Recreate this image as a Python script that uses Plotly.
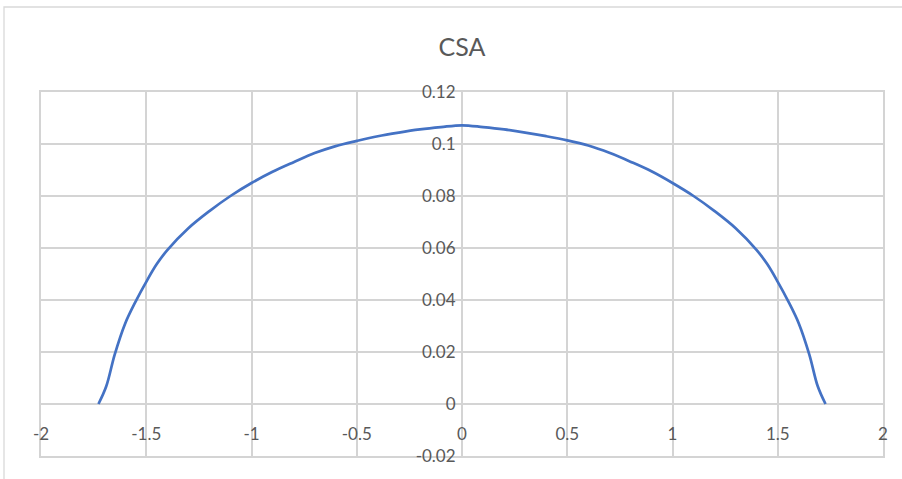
import plotly.graph_objects as go

# Cross-sectional area profile
x_vals = [-1.727, -1.69, -1.65, -1.60, -1.55, -1.50,
          -1.45, -1.40, -1.30, -1.20, -1.10, -1.00, -0.90, -0.80, -0.70, -0.60, -0.50,
          -0.40, -0.30, -0.20, -0.10, 0.00,
          0.10, 0.20, 0.30, 0.40, 0.50, 0.60, 0.70, 0.80, 0.90, 1.00,
          1.10, 1.20, 1.30, 1.40, 1.45, 1.50, 1.55, 1.60, 1.65, 1.69, 1.727]
csa_vals = [0.0000, 0.0068, 0.0190, 0.0310, 0.0395, 0.0470,
            0.0538, 0.0592, 0.0676, 0.0742, 0.0800, 0.0850, 0.0893, 0.0930, 0.0965, 0.0992, 0.1012,
            0.1030, 0.1044, 0.1056, 0.1065, 0.1072,
            0.1065, 0.1056, 0.1044, 0.1030, 0.1014, 0.0994, 0.0966, 0.0932, 0.0895, 0.0850,
            0.0800, 0.0742, 0.0676, 0.0592, 0.0538, 0.0470, 0.0395, 0.0310, 0.0190, 0.0068, 0.0000]

x_ticks = [-2, -1.5, -1, -0.5, 0, 0.5, 1, 1.5, 2]
x_tick_text = ["-2", "-1.5", "-1", "-0.5", "0", "0.5", "1", "1.5", "2"]
y_ticks = [-0.02, 0, 0.02, 0.04, 0.06, 0.08, 0.1, 0.12]
y_tick_text = ["-0.02", "0", "0.02", "0.04", "0.06", "0.08", "0.1", "0.12"]

grid = "#d4d4d4"
txt = "#595959"
font_family = "Lato, 'Open Sans', sans-serif"

fig = go.Figure()
fig.add_trace(go.Scatter(
    x=x_vals, y=csa_vals, mode="lines",
    line=dict(color="#4472C4", width=2.7, shape="spline", smoothing=1.0),
    showlegend=False, hoverinfo="skip",
))
# invisible traces to carry the label axes
fig.add_trace(go.Scatter(x=[None], y=[None], xaxis="x2", yaxis="y", showlegend=False))
fig.add_trace(go.Scatter(x=[None], y=[None], xaxis="x", yaxis="y2", showlegend=False))

W, H = 902, 479
ml, mr, mt, mb = 41, 19, 92, 23
pw, ph = W - ml - mr, H - mt - mb
zero_frac = (0 - (-0.02)) / (0.12 - (-0.02))

fig.update_layout(
    width=W, height=H,
    margin=dict(l=ml, r=mr, t=mt, b=mb),
    paper_bgcolor="white", plot_bgcolor="white",
    font=dict(family=font_family, color=txt, size=16),
    title=dict(text="CSA", x=0.5, xref="paper", xanchor="center",
               y=1 - 47 / H, yanchor="middle",
               font=dict(size=25, color=txt, family=font_family)),
    xaxis=dict(range=[-2, 2], tickvals=x_ticks, showticklabels=False,
               showgrid=True, gridcolor=grid, gridwidth=1.5,
               zeroline=True, zerolinecolor=grid, zerolinewidth=1.5,
               showline=True, mirror=True, linecolor=grid, linewidth=1.5,
               ticks="", fixedrange=True),
    yaxis=dict(range=[-0.02, 0.12], tickvals=y_ticks, showticklabels=False,
               showgrid=True, gridcolor=grid, gridwidth=1.5,
               zeroline=True, zerolinecolor=grid, zerolinewidth=1.5,
               showline=True, mirror=True, linecolor=grid, linewidth=1.5,
               ticks="", fixedrange=True),
    xaxis2=dict(overlaying="x", matches="x", anchor="free", position=zero_frac,
                side="bottom", tickvals=x_ticks, ticktext=x_tick_text,
                ticks="outside", ticklen=15, tickcolor="rgba(0,0,0,0)",
                showgrid=False, zeroline=False, showline=False,
                tickfont=dict(size=17, color=txt, family=font_family)),
    yaxis2=dict(overlaying="y", matches="y", anchor="free", position=0.5,
                side="left", tickvals=y_ticks, ticktext=y_tick_text,
                ticks="outside", ticklen=3, tickcolor="rgba(0,0,0,0)",
                showgrid=False, zeroline=False, showline=False,
                tickfont=dict(size=17, color=txt, family=font_family)),
)

# outer chart border
fig.add_shape(type="rect", xref="paper", yref="paper",
              x0=(4 - ml) / pw, x1=(W + 5 - ml) / pw,
              y0=(H - mb - (H + 5)) / ph, y1=(H - mb - 7) / ph,
              line=dict(color="#d9d9d9", width=1.3), layer="below")

fig.write_html("out.html")
